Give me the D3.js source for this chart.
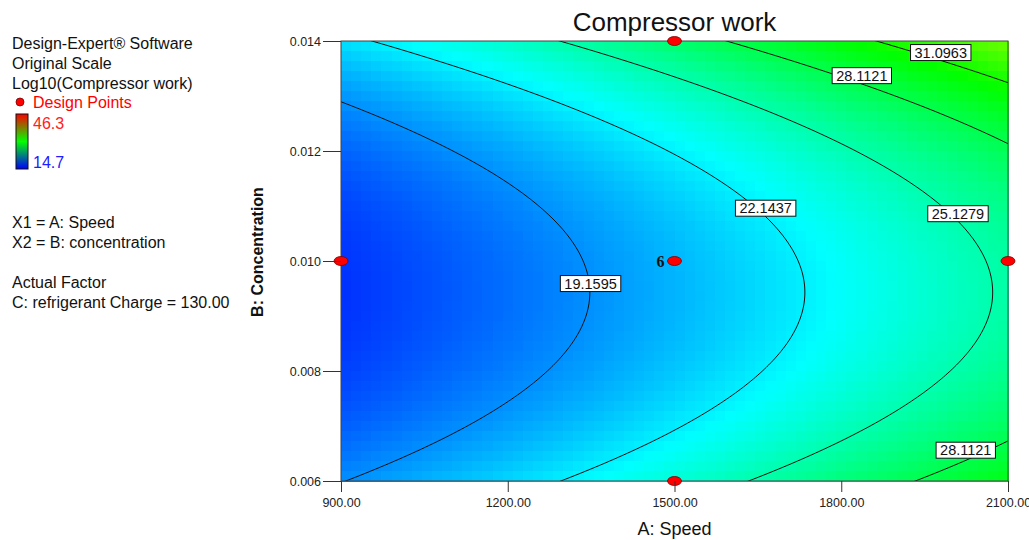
<!DOCTYPE html>
<html>
<head>
<meta charset="utf-8">
<script src="https://cdn.jsdelivr.net/npm/d3@7"></script>
<style>
  body { margin: 0; background: #fff; }
  svg { display: block; font-family: "Liberation Sans", Arial, sans-serif; }
</style>
</head>
<body>
<svg id="chart" width="1029" height="540"></svg>
<script>
// axis ticks
const speedTicks = [900, 1200, 1500, 1800, 2100];
const concTicks = [0.006, 0.008, 0.010, 0.012, 0.014];

// fitted model, coded units, log10(Compressor work)
const termNames = ["Intercept", "A", "B", "AB", "A^2", "B^2"];
const termCoefs = [1.3091, 0.0975, 0.0276, 0, 0, 0.097];

// contour levels (original scale)
const contourLevels = [19.1595, 22.1437, 25.1279, 28.1121, 31.0963];

// contour label anchors
const labelLevels = [19.1595, 22.1437, 25.1279, 28.1121, 31.0963, 28.1121];
const labelSpeed = [1349, 1664, 2010, 1837, 1979, 2024];
const labelConc = [0.00959, 0.01096, 0.01086, 0.01337, 0.01379, 0.00656];

// design points
const designSpeed = [900, 1500, 1500, 1500, 2100];
const designConc = [0.010, 0.014, 0.010, 0.006, 0.010];
const designCount = [1, 1, 6, 1, 1];

// colour legend range
const colorRange = [14.7, 46.3];

const svg = d3.select("#chart");
const plot = { left: 341, right: 1008, top: 41, bottom: 481 };

const x = d3.scaleLinear().domain(d3.extent(speedTicks)).range([plot.left, plot.right]);
const y = d3.scaleLinear().domain(d3.extent(concTicks)).range([plot.bottom, plot.top]);

const speedMid = d3.mean(d3.extent(speedTicks)), speedHalf = (d3.max(speedTicks) - d3.min(speedTicks)) / 2;
const concMid = d3.mean(d3.extent(concTicks)), concHalf = (d3.max(concTicks) - d3.min(concTicks)) / 2;

function predict(speed, conc) {
  const a = (speed - speedMid) / speedHalf;
  const b = (conc - concMid) / concHalf;
  const c = termCoefs;
  const f = c[0] + c[1] * a + c[2] * b + c[3] * a * b + c[4] * a * a + c[5] * b * b;
  return Math.pow(10, f);
}

const lo = colorRange[0], hi = colorRange[1];
const color = d3.scaleLinear()
  .domain([0, 0.25, 0.5, 0.75, 1].map(t => lo + t * (hi - lo)))
  .range(["#0000ff", "#00ffff", "#00ff00", "#ffff00", "#ff0000"])
  .clamp(true);

// ---- heat map cells
const nx = 66, ny = 44;
const cw = (plot.right - plot.left) / nx, ch = (plot.bottom - plot.top) / ny;
const cells = [];
for (let j = 0; j < ny; j++) {
  for (let i = 0; i < nx; i++) {
    const px = plot.left + (i + 0.5) * cw, py = plot.top + (j + 0.5) * ch;
    cells.push({ i, j, v: predict(x.invert(px), y.invert(py)) });
  }
}
svg.append("g")
  .attr("shape-rendering", "crispEdges")
  .selectAll("rect")
  .data(cells)
  .join("rect")
  .attr("x", d => plot.left + d.i * cw)
  .attr("y", d => plot.top + d.j * ch)
  .attr("width", cw + 0.6)
  .attr("height", ch + 0.6)
  .attr("fill", d => color(d.v));

// ---- contour lines
svg.append("clipPath").attr("id", "plotClip")
  .append("rect")
  .attr("x", plot.left).attr("y", plot.top)
  .attr("width", plot.right - plot.left).attr("height", plot.bottom - plot.top);

const step = 2, gx0 = plot.left - 10, gy0 = plot.top - 10;
const gn = Math.ceil((plot.right - plot.left + 20) / step) + 1;
const gm = Math.ceil((plot.bottom - plot.top + 20) / step) + 1;
const values = new Array(gn * gm);
for (let j = 0; j < gm; j++) {
  for (let i = 0; i < gn; i++) {
    values[j * gn + i] = predict(x.invert(gx0 + i * step), y.invert(gy0 + j * step));
  }
}
const contours = d3.contours().size([gn, gm]).thresholds(contourLevels)(values);
const path = d3.geoPath(d3.geoIdentity().scale(step).translate([gx0 - step / 2, gy0 - step / 2]));

svg.append("g")
  .attr("clip-path", "url(#plotClip)")
  .selectAll("path")
  .data(contours)
  .join("path")
  .attr("d", path)
  .attr("fill", "none")
  .attr("stroke", "#111")
  .attr("stroke-width", 1);

// ---- plot frame
svg.append("rect")
  .attr("x", plot.left).attr("y", plot.top)
  .attr("width", plot.right - plot.left).attr("height", plot.bottom - plot.top)
  .attr("fill", "none")
  .attr("stroke", "#444")
  .attr("stroke-width", 1);

// ---- contour labels
const labels = svg.append("g").selectAll("g")
  .data(labelLevels.map((lv, k) => ({ lv, s: labelSpeed[k], c: labelConc[k] })))
  .join("g")
  .attr("transform", d => `translate(${x(d.s)},${y(d.c)})`);
labels.append("rect");
labels.append("text")
  .attr("text-anchor", "middle")
  .attr("dy", "0.36em")
  .attr("font-size", 14.5)
  .attr("fill", "#111")
  .text(d => d.lv.toFixed(4));
labels.each(function () {
  const g = d3.select(this);
  const w = g.select("text").node().getComputedTextLength() + 8;
  g.select("rect")
    .attr("x", -w / 2).attr("y", -8)
    .attr("width", w).attr("height", 16)
    .attr("fill", "#fff")
    .attr("stroke", "#111")
    .attr("stroke-width", 1);
});

// ---- design points
const pts = svg.append("g").selectAll("g")
  .data(designSpeed.map((s, k) => ({ s, c: designConc[k], n: designCount[k] })))
  .join("g")
  .attr("transform", d => `translate(${x(d.s)},${y(d.c)})`);
pts.append("ellipse")
  .attr("rx", 7).attr("ry", 4.5)
  .attr("fill", "#ff0000")
  .attr("stroke", "#700")
  .attr("stroke-width", 0.8);
pts.filter(d => d.n > 1).append("text")
  .attr("x", -10)
  .attr("dy", "0.35em")
  .attr("text-anchor", "end")
  .attr("font-family", "'Liberation Serif', serif")
  .attr("font-weight", "bold")
  .attr("font-size", 16)
  .attr("fill", "#111")
  .text(d => d.n);

// ---- axes
const yAxis = svg.append("g")
  .attr("transform", `translate(${plot.left},0)`)
  .call(d3.axisLeft(y).tickValues(concTicks).tickFormat(d3.format(".3f")).tickSize(18).tickPadding(2));
const xAxis = svg.append("g")
  .attr("transform", `translate(0,${plot.bottom})`)
  .call(d3.axisBottom(x).tickValues(speedTicks).tickFormat(d3.format(".2f")).tickSize(11).tickPadding(6));
[xAxis, yAxis].forEach(ax => {
  ax.select(".domain").remove();
  ax.selectAll(".tick line").attr("stroke", "#333");
  ax.selectAll(".tick text")
    .attr("font-family", "'Liberation Sans', Arial, sans-serif")
    .attr("font-size", 12.5)
    .attr("fill", "#222");
});

svg.append("text")
  .attr("x", (plot.left + plot.right) / 2).attr("y", 535)
  .attr("text-anchor", "middle")
  .attr("font-size", 18)
  .attr("fill", "#111")
  .text("A: Speed");

svg.append("text")
  .attr("transform", "translate(263,252) rotate(-90)")
  .attr("text-anchor", "middle")
  .attr("font-size", 16)
  .attr("font-weight", "bold")
  .attr("fill", "#111")
  .text("B: Concentration");

svg.append("text")
  .attr("x", (plot.left + plot.right) / 2).attr("y", 31)
  .attr("text-anchor", "middle")
  .attr("font-size", 26)
  .attr("fill", "#111")
  .text("Compressor work");

// ---- left legend
const info = [
  { t: "Design-Expert® Software", y: 49, c: "#111" },
  { t: "Original Scale", y: 69, c: "#111" },
  { t: "Log10(Compressor work)", y: 89, c: "#111" },
  { t: "X1 = A: Speed", y: 228, c: "#111" },
  { t: "X2 = B: concentration", y: 248, c: "#111" },
  { t: "Actual Factor", y: 288, c: "#111" },
  { t: "C: refrigerant Charge = 130.00", y: 308, c: "#111" }
];
svg.append("g").selectAll("text")
  .data(info)
  .join("text")
  .attr("x", 12).attr("y", d => d.y)
  .attr("font-size", 16)
  .attr("fill", d => d.c)
  .text(d => d.t);

svg.append("ellipse")
  .attr("cx", 20).attr("cy", 102).attr("rx", 4).attr("ry", 4)
  .attr("fill", "#ff0000").attr("stroke", "#700").attr("stroke-width", 0.8);
svg.append("text")
  .attr("x", 33).attr("y", 108)
  .attr("font-size", 16).attr("fill", "#ff0000")
  .text("Design Points");

const grad = svg.append("defs").append("linearGradient")
  .attr("id", "legendGrad")
  .attr("x1", 0).attr("y1", 0).attr("x2", 0).attr("y2", 1);
grad.selectAll("stop")
  .data([{ o: 0, c: "#ff0000" }, { o: 0.5, c: "#00ff00" }, { o: 1, c: "#0000ff" }])
  .join("stop")
  .attr("offset", d => d.o)
  .attr("stop-color", d => d.c);
svg.append("rect")
  .attr("x", 16).attr("y", 114).attr("width", 12).attr("height", 55)
  .attr("fill", "url(#legendGrad)")
  .attr("stroke", "#111").attr("stroke-width", 1);
svg.append("text")
  .attr("x", 33).attr("y", 129)
  .attr("font-size", 16).attr("fill", "#ff2020")
  .text(colorRange[1].toFixed(1));
svg.append("text")
  .attr("x", 33).attr("y", 168)
  .attr("font-size", 16).attr("fill", "#2020ff")
  .text(colorRange[0].toFixed(1));
</script>
</body>
</html>
